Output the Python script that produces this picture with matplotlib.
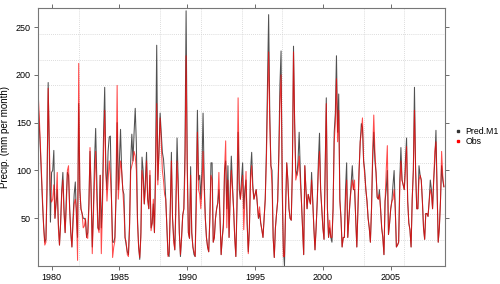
import numpy as np
import matplotlib
matplotlib.use("Agg")
import matplotlib.pyplot as plt
from matplotlib.lines import Line2D
from matplotlib.ticker import FixedLocator

plt.rcParams['font.family'] = ['Liberation Sans', 'DejaVu Sans']

# monthly precipitation, Jan 1979 - Dec 2008 (one row per year)
obs = [
    185, 160, 130, 100, 70, 40, 22, 25, 90, 186, 130, 74,
    67, 70, 85, 50, 70, 98, 40, 22, 45, 75, 90, 55,
    35, 60, 100, 105, 60, 35, 20, 45, 65, 70, 60, 6,
    212, 80, 60, 55, 40, 42, 50, 30, 29, 60, 124, 80,
    13, 50, 90, 120, 70, 40, 35, 95, 13, 60, 120, 163,
    100, 68, 90, 110, 95, 70, 9, 20, 26, 80, 189, 70,
    90, 110, 100, 80, 60, 30, 25, 12, 10, 40, 100, 105,
    110, 120, 115, 100, 45, 20, 9, 30, 100, 90, 65, 80,
    110, 70, 60, 100, 37, 45, 70, 35, 90, 170, 85, 120,
    155, 130, 100, 90, 75, 70, 40, 10, 15, 60, 110, 50,
    25, 17, 60, 110, 80, 35, 12, 30, 53, 60, 100, 220,
    100, 35, 29, 95, 35, 20, 15, 10, 60, 140, 80, 75,
    60, 80, 120, 80, 50, 30, 20, 15, 50, 95, 90, 25,
    30, 50, 60, 66, 98, 50, 12, 30, 40, 100, 131, 40,
    90, 30, 70, 100, 80, 60, 30, 10, 70, 176, 90, 70,
    80, 95, 38, 70, 99, 45, 13, 40, 90, 105, 80, 70,
    75, 80, 65, 50, 62, 45, 38, 30, 50, 70, 110, 170,
    224, 150, 105, 85, 30, 9, 40, 55, 68, 110, 170, 200,
    100, 10, 10, 60, 108, 90, 60, 50, 48, 100, 224, 150,
    90, 95, 100, 115, 90, 68, 40, 12, 105, 80, 60, 75,
    70, 65, 90, 68, 40, 17, 40, 68, 100, 120, 80, 60,
    40, 28, 100, 170, 60, 30, 48, 30, 30, 60, 130, 150,
    196, 130, 163, 68, 50, 20, 30, 30, 70, 90, 30, 50,
    68, 80, 90, 80, 90, 50, 20, 60, 100, 130, 140, 155,
    110, 95, 80, 68, 50, 40, 25, 60, 120, 158, 120, 98,
    72, 70, 75, 60, 40, 30, 12, 68, 100, 126, 33, 45,
    60, 68, 70, 80, 60, 20, 22, 25, 80, 110, 90, 85,
    80, 100, 125, 68, 45, 38, 20, 70, 100, 163, 100, 60,
    60, 90, 95, 90, 68, 40, 28, 55, 55, 52, 68, 80,
    75, 60, 90, 120, 130, 80, 25, 40, 68, 120, 95, 83,
]
pred = [
    172, 150, 125, 95, 65, 42, 25, 28, 80, 192, 120, 46,
    98, 100, 121, 50, 65, 80, 45, 22, 45, 80, 98, 60,
    35, 70, 98, 95, 60, 35, 20, 50, 75, 88, 50, 30,
    170, 80, 60, 55, 50, 50, 48, 30, 35, 65, 120, 75,
    20, 60, 110, 144, 90, 40, 38, 95, 40, 70, 140, 187,
    100, 80, 120, 135, 136, 70, 25, 25, 30, 70, 150, 80,
    110, 143, 100, 80, 75, 30, 22, 15, 12, 45, 110, 138,
    110, 140, 165, 128, 50, 20, 7, 35, 114, 100, 65, 90,
    119, 70, 60, 95, 40, 45, 65, 35, 110, 231, 90, 120,
    160, 140, 119, 112, 95, 70, 40, 12, 10, 60, 119, 50,
    30, 17, 70, 134, 90, 35, 10, 30, 53, 60, 120, 267,
    110, 35, 29, 104, 35, 20, 12, 10, 80, 163, 90, 95,
    70, 100, 160, 90, 50, 30, 20, 15, 50, 108, 108, 25,
    30, 50, 60, 66, 80, 50, 12, 30, 45, 100, 110, 60,
    105, 30, 80, 115, 85, 60, 30, 10, 60, 140, 80, 70,
    90, 108, 60, 80, 90, 45, 15, 40, 100, 119, 85, 70,
    75, 80, 65, 50, 55, 45, 38, 30, 50, 70, 120, 190,
    263, 160, 105, 100, 30, 9, 40, 55, 68, 120, 190, 225,
    80, 20, 0, 60, 108, 90, 60, 50, 48, 100, 230, 150,
    100, 95, 110, 140, 100, 68, 40, 12, 105, 80, 60, 75,
    70, 65, 98, 68, 40, 17, 40, 68, 110, 139, 80, 60,
    40, 28, 100, 176, 60, 30, 40, 30, 25, 60, 140, 160,
    220, 140, 180, 70, 50, 20, 30, 30, 80, 108, 30, 50,
    68, 85, 105, 80, 80, 50, 20, 60, 100, 130, 149, 145,
    110, 100, 80, 68, 50, 40, 25, 60, 110, 140, 110, 98,
    72, 70, 80, 60, 40, 30, 12, 68, 80, 100, 33, 45,
    60, 68, 85, 100, 60, 20, 22, 25, 90, 124, 90, 85,
    80, 110, 134, 68, 45, 38, 20, 70, 100, 187, 100, 60,
    60, 105, 95, 90, 68, 40, 28, 55, 55, 52, 68, 90,
    80, 60, 90, 110, 142, 80, 25, 40, 68, 105, 90, 83,
]
series_names = ["Pred.M1", "Obs"]
year_ticks = [1980, 1985, 1990, 1995, 2000, 2005]
y_ticks = [50, 100, 150, 200, 250]

t = 1979 + np.arange(len(obs)) / 12.0

fig = plt.figure(figsize=(5, 2.84), dpi=100)
ax = fig.add_axes([0.076, 0.063, 0.814, 0.909])

ax.plot(t, pred, color="#333333", lw=0.75, alpha=0.85)
ax.plot(t, obs, color="#ff0000", lw=0.75, alpha=0.7)

ax.set_xlim(1979, 2009)
ax.set_ylim(0, 270)

# dotted reference grid, 10 divisions each way
ax.xaxis.set_minor_locator(FixedLocator(np.linspace(1979, 2009, 11)[1:-1]))
ax.yaxis.set_minor_locator(FixedLocator(np.linspace(0, 270, 11)[1:-1]))
ax.grid(which="minor", color="#d0d0d0", linestyle=(0, (1, 1.5)), lw=0.6)
ax.tick_params(which="minor", length=0)
ax.set_axisbelow(True)

ax.set_xticks(year_ticks)
ax.set_yticks(y_ticks)
ax.tick_params(which="major", direction="out", length=3, width=0.6,
               color="#555555", labelsize=6.5, pad=2,
               top=True, right=True, labeltop=False, labelright=False)
for s in ax.spines.values():
    s.set_color("#777777")
    s.set_linewidth(0.8)

ax.set_ylabel("Precip. (mm per month)", fontsize=7, labelpad=4)

handles = [Line2D([], [], ls="none", marker="s", ms=2, color=c)
           for c in ["#333333", "red"]]
fig.legend(handles, series_names, loc="center left",
           bbox_to_anchor=(0.9, 0.52), frameon=False, fontsize=6.3,
           handlelength=0.8, handletextpad=0.5, labelspacing=0.1,
           borderpad=0)

fig.savefig("out.png", dpi=100)
